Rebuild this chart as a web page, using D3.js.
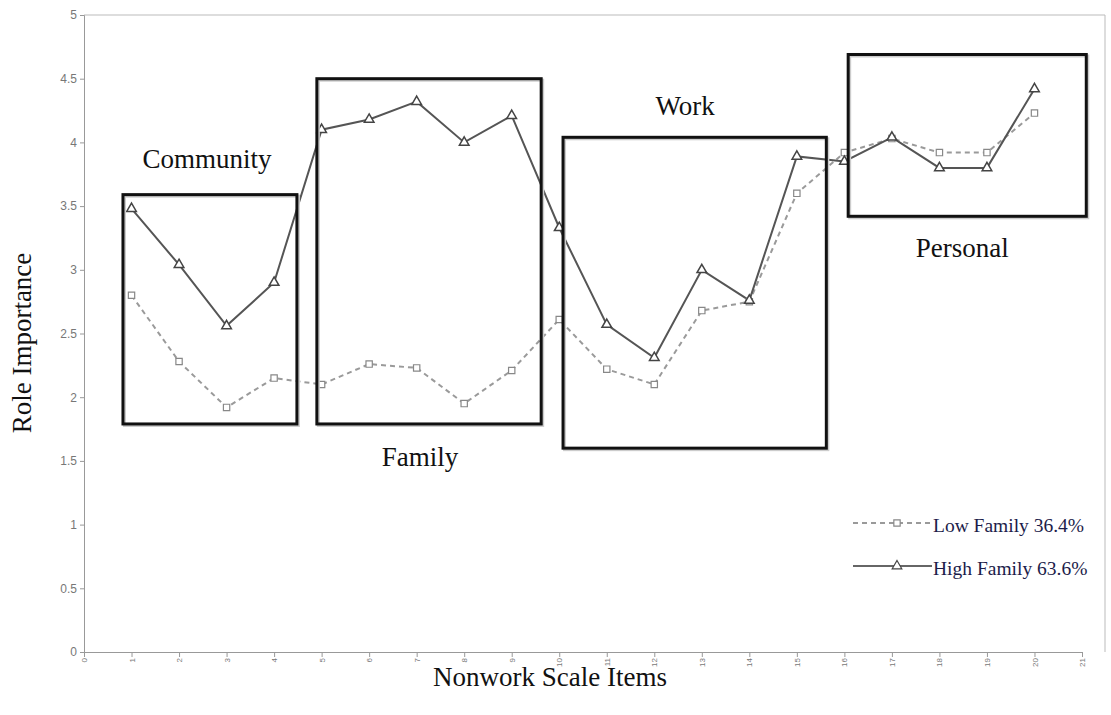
<!DOCTYPE html>
<html>
<head>
<meta charset="utf-8">
<script src="https://cdn.jsdelivr.net/npm/d3@7"></script>
<style>
  body { margin: 0; background: #fff; }
  svg { display: block; }
  .tick text { font-family: "Liberation Sans", Arial, sans-serif; fill: #777; }
  .tick line, .domain { stroke: #999; }
</style>
</head>
<body>
<div id="chart"></div>
<script>
'use strict';

// nonwork scale items 1..20
const items = d3.range(1, 21);
const lowFamily  = [2.80, 2.28, 1.92, 2.15, 2.10, 2.26, 2.23, 1.95, 2.21, 2.61,
                    2.22, 2.10, 2.68, 2.75, 3.60, 3.92, 4.03, 3.92, 3.92, 4.23];
const highFamily = [3.48, 3.04, 2.56, 2.90, 4.10, 4.18, 4.32, 4.00, 4.21, 3.33,
                    2.57, 2.31, 3.00, 2.76, 3.89, 3.85, 4.04, 3.80, 3.80, 4.42];
const yTicks = d3.range(0, 5.01, 0.5);
const xTicks = d3.range(0, 22);

// role groupings drawn as boxes (in data units)
const groupNames = ['Community', 'Family', 'Work', 'Personal'];
const groupX = [[0.82, 4.48], [4.9, 9.62], [10.08, 15.62], [16.08, 21.09]];
const groupY = [[1.79, 3.59], [1.79, 4.5], [1.6, 4.04], [3.42, 4.69]];
const labelAt = [[2.59, 3.80], [7.07, 1.46], [12.65, 4.215], [18.48, 3.10]];

const svgWidth = 1111, svgHeight = 715;
const margin = [15, 63, 84, 6]; // top, bottom, left, right
const chartWidth = 1082 - margin[2];
const chartHeight = svgHeight - margin[0] - margin[1];
const serif = '"Liberation Serif", "Times New Roman", serif';

const svg = d3.select('#chart').append('svg')
    .attr('width', svgWidth)
    .attr('height', svgHeight);

const chart = svg.append('g')
    .attr('transform', `translate(${margin[2]},${margin[0]})`);

const scaleX = d3.scaleLinear([0, 21], [0, chartWidth]);
const scaleY = d3.scaleLinear([0, 5], [chartHeight, 0]);

// frame: top and right edges
chart.append('path')
    .attr('d', `M0,0H${svgWidth - margin[2] - margin[3]}V${chartHeight}`)
    .attr('fill', 'none')
    .attr('stroke', '#bbb');

// axes
const axisY = chart.append('g')
    .call(d3.axisLeft(scaleY).tickValues(yTicks).tickSize(4).tickPadding(3)
        .tickFormat(d => d3.format('~g')(d)));
axisY.selectAll('text').attr('font-size', 12);

const axisX = chart.append('g')
    .attr('transform', `translate(0,${chartHeight})`)
    .call(d3.axisBottom(scaleX).tickValues(xTicks).tickSize(5).tickFormat(d => d));
axisX.selectAll('text')
    .attr('font-size', 8)
    .attr('transform', 'rotate(-90)')
    .attr('text-anchor', 'end')
    .attr('dy', '0.32em')
    .attr('x', -6)
    .attr('y', 0)
    .attr('fill', '#888');

// lines
const line = d3.line().x((d, i) => scaleX(items[i])).y(d => scaleY(d));
chart.append('path')
    .datum(lowFamily)
    .attr('d', line)
    .attr('fill', 'none')
    .attr('stroke', '#9a9a9a')
    .attr('stroke-width', 2)
    .attr('stroke-dasharray', '5,4');

chart.append('path')
    .datum(highFamily)
    .attr('d', line)
    .attr('fill', 'none')
    .attr('stroke', '#555')
    .attr('stroke-width', 2);

// markers
const sq = d3.symbol(d3.symbolSquare, 40);
const tri = d3.symbol(d3.symbolTriangle, 40);

chart.selectAll('.m-low').data(lowFamily).join('path')
    .attr('class', 'm-low')
    .attr('d', sq)
    .attr('transform', (d, i) => `translate(${scaleX(items[i])},${scaleY(d)})`)
    .attr('fill', '#fff')
    .attr('stroke', '#888')
    .attr('stroke-width', 1.2);

chart.selectAll('.m-high').data(highFamily).join('path')
    .attr('class', 'm-high')
    .attr('d', tri)
    .attr('transform', (d, i) => `translate(${scaleX(items[i])},${scaleY(d)})`)
    .attr('fill', '#fff')
    .attr('stroke', '#444')
    .attr('stroke-width', 1.5);

// group boxes
const boxes = chart.append('g');
groupNames.forEach((name, i) => {
    const x0 = scaleX(groupX[i][0]), x1 = scaleX(groupX[i][1]);
    const y0 = scaleY(groupY[i][1]), y1 = scaleY(groupY[i][0]);
    boxes.append('rect')
        .attr('x', x0 + 1.5).attr('y', y0 + 1.5)
        .attr('width', x1 - x0).attr('height', y1 - y0)
        .attr('fill', 'none').attr('stroke', '#ccc').attr('stroke-width', 3);
    boxes.append('rect')
        .attr('x', x0).attr('y', y0)
        .attr('width', x1 - x0).attr('height', y1 - y0)
        .attr('fill', 'none').attr('stroke', '#111').attr('stroke-width', 3);
    boxes.append('text')
        .attr('x', scaleX(labelAt[i][0]))
        .attr('y', scaleY(labelAt[i][1]))
        .attr('text-anchor', 'middle')
        .attr('font-family', serif)
        .attr('font-size', 27)
        .attr('fill', '#111')
        .text(name);
});

// legend
const legendNames = ['Low Family 36.4%', 'High Family 63.6%'];
const legend = svg.append('g').attr('transform', 'translate(853,523)');
legendNames.forEach((name, i) => {
    const g = legend.append('g').attr('transform', `translate(0,${i * 43})`);
    g.append('line')
        .attr('x1', 0).attr('x2', 79)
        .attr('stroke', i === 0 ? '#9a9a9a' : '#666')
        .attr('stroke-width', 2)
        .attr('stroke-dasharray', i === 0 ? '5,4' : null);
    g.append('path')
        .attr('d', i === 0 ? sq : tri)
        .attr('transform', 'translate(44,0)')
        .attr('fill', '#fff')
        .attr('stroke', i === 0 ? '#888' : '#444')
        .attr('stroke-width', 1.2);
    g.append('text')
        .attr('x', 80).attr('y', 9)
        .attr('font-family', serif)
        .attr('font-size', 19.5)
        .attr('fill', '#1c1c4a')
        .text(name);
});

// axis titles
svg.append('text')
    .attr('text-anchor', 'middle')
    .attr('x', 550)
    .attr('y', 686)
    .attr('font-family', serif)
    .attr('font-size', 27)
    .attr('fill', '#111')
    .text('Nonwork Scale Items');

svg.append('text')
    .attr('text-anchor', 'middle')
    .attr('transform', 'translate(31,343) rotate(-90)')
    .attr('font-family', serif)
    .attr('font-size', 27)
    .attr('fill', '#111')
    .text('Role Importance');
</script>
</body>
</html>
